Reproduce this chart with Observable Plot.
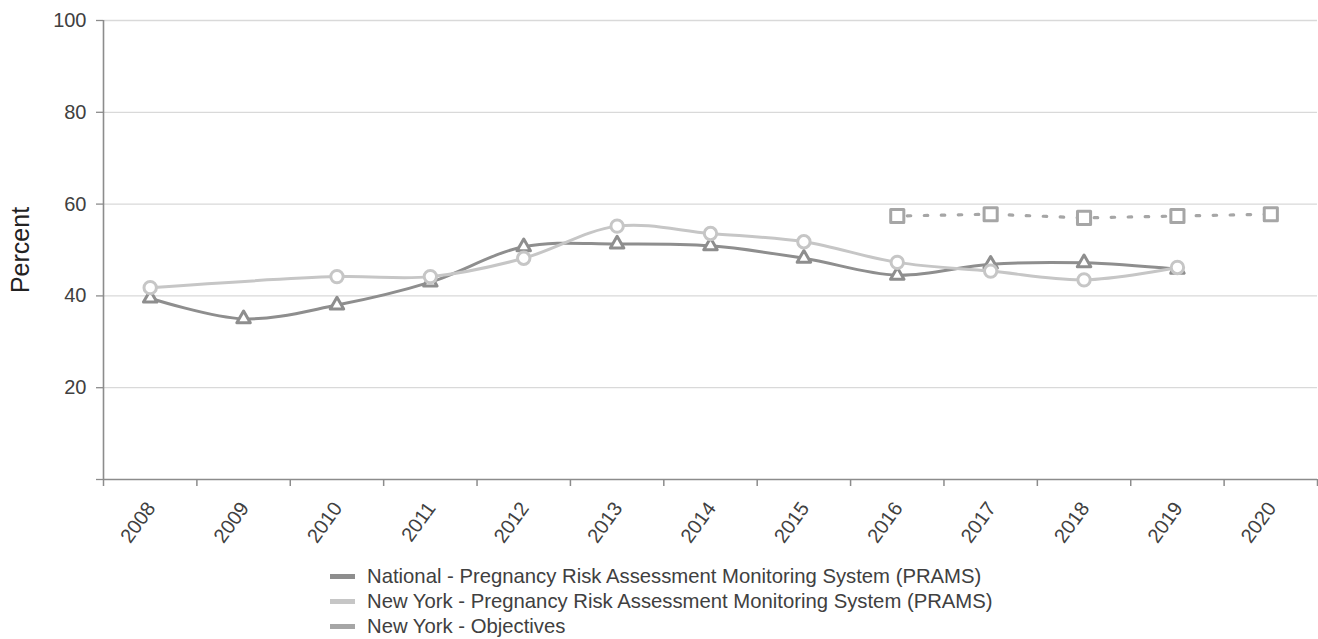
<!DOCTYPE html>
<html>
<head>
<meta charset="utf-8">
<script src="https://cdn.jsdelivr.net/npm/d3@7"></script>
<script src="https://cdn.jsdelivr.net/npm/@observablehq/plot@0.6"></script>
<style>
  html, body { margin: 0; padding: 0; background: #fff; }
  body { width: 1318px; height: 639px; position: relative; overflow: hidden; font-family: "Liberation Sans", Arial, sans-serif; }
  #chart { position: absolute; left: 0; top: 0; }
  .legend { position: absolute; left: 330px; top: 564px; }
  .row { height: 25px; display: flex; align-items: center; font-size: 20.3px; color: #404040; }
  .sw { width: 25px; height: 5px; margin-right: 12px; }
</style>
</head>
<body>
<div id="chart"></div>
<div class="legend" id="legend"></div>
<script>
const years = [2008, 2009, 2010, 2011, 2012, 2013, 2014, 2015, 2016, 2017, 2018, 2019, 2020];
const yTicks = [0, 20, 40, 60, 80, 100];

const nationalYears = [2008, 2009, 2010, 2011, 2012, 2013, 2014, 2015, 2016, 2017, 2018, 2019];
const nationalValues = [39.5, 35.0, 38.0, 43.0, 50.7, 51.3, 50.9, 48.2, 44.5, 46.9, 47.2, 45.8];

const nyYears = [2008, 2010, 2011, 2012, 2013, 2014, 2015, 2016, 2017, 2018, 2019];
const nyValues = [41.8, 44.2, 44.2, 48.2, 55.2, 53.6, 51.8, 47.3, 45.4, 43.5, 46.2];

const objYears = [2016, 2017, 2018, 2019, 2020];
const objValues = [57.4, 57.8, 57.0, 57.4, 57.8];

const seriesNames = [
  "National - Pregnancy Risk Assessment Monitoring System (PRAMS)",
  "New York - Pregnancy Risk Assessment Monitoring System (PRAMS)",
  "New York - Objectives"
];
const seriesColors = ["#8e8e8e", "#c6c6c6", "#a6a6a6"];

const national = nationalYears.map((y, i) => ({year: y, value: nationalValues[i]}));
const ny = nyYears.map((y, i) => ({year: y, value: nyValues[i]}));
const obj = objYears.map((y, i) => ({year: y, value: objValues[i]}));

const xBounds = years.map(y => y - 0.5).concat([years[years.length - 1] + 0.5]);
const axisColor = "#8c8c8c";
const textColor = "#404040";

const chart = Plot.plot({
  width: 1318,
  height: 560,
  marginLeft: 103,
  marginRight: 1,
  marginTop: 20,
  marginBottom: 81,
  style: {fontFamily: "Liberation Sans, Arial, sans-serif", background: "#fff"},
  x: {type: "linear", domain: [xBounds[0], xBounds[xBounds.length - 1]]},
  y: {domain: [0, 100]},
  marks: [
    Plot.gridY({ticks: yTicks.filter(d => d > 0), stroke: "#d9d9d9", strokeOpacity: 1, strokeWidth: 1.3}),
    Plot.axisY({ticks: yTicks, tickSize: 7, tickPadding: 10, tickFormat: d => d === 0 ? "" : String(d),
      fontSize: 20, color: textColor, stroke: axisColor, strokeWidth: 1.3,
      label: "Percent", labelAnchor: "center", labelArrow: "none", labelOffset: 92}),
    Plot.axisX({ticks: xBounds, tickSize: 7, tickFormat: () => "", stroke: axisColor, strokeWidth: 1.5, label: null}),
    Plot.text(years, {x: d => d, frameAnchor: "bottom", rotate: -54, textAnchor: "end", lineAnchor: "middle",
      dy: 25, dx: 1, fontSize: 20, fill: textColor, text: d => String(d)}),
    Plot.ruleY([0], {stroke: axisColor, strokeWidth: 1.6}),
    Plot.ruleX([xBounds[0]], {stroke: axisColor, strokeWidth: 1.6}),
    // National
    Plot.line(national, {x: "year", y: "value", stroke: seriesColors[0], strokeWidth: 3, curve: "catmull-rom"}),
    Plot.dot(national, {x: "year", y: "value", symbol: "triangle", r: 5, stroke: seriesColors[0], fill: "white", strokeWidth: 3, strokeLinejoin: "round"}),
    // New York
    Plot.line(ny, {x: "year", y: "value", stroke: seriesColors[1], strokeWidth: 3, curve: "catmull-rom"}),
    Plot.dot(ny, {x: "year", y: "value", symbol: "circle", r: 6.2, stroke: seriesColors[1], fill: "white", strokeWidth: 3}),
    // Objectives
    Plot.line(obj, {x: "year", y: "value", stroke: seriesColors[2], strokeWidth: 3.2, strokeDasharray: "3.5 13.5", strokeDashoffset: -10}),
    Plot.dot(obj, {x: "year", y: "value", symbol: "square", r: 7.4, stroke: seriesColors[2], fill: "white", strokeWidth: 3, strokeLinejoin: "round"})
  ]
});
chart.querySelectorAll("g[aria-label='y-axis label'] text").forEach(t => { t.setAttribute("font-size", "25"); t.style.fill = "#222"; });
document.getElementById("chart").appendChild(chart);

const legend = document.getElementById("legend");
seriesNames.forEach((name, i) => {
  const row = document.createElement("div");
  row.className = "row";
  const sw = document.createElement("div");
  sw.className = "sw";
  sw.style.background = seriesColors[i];
  const label = document.createElement("span");
  label.textContent = name;
  row.appendChild(sw);
  row.appendChild(label);
  legend.appendChild(row);
});
</script>
</body>
</html>
